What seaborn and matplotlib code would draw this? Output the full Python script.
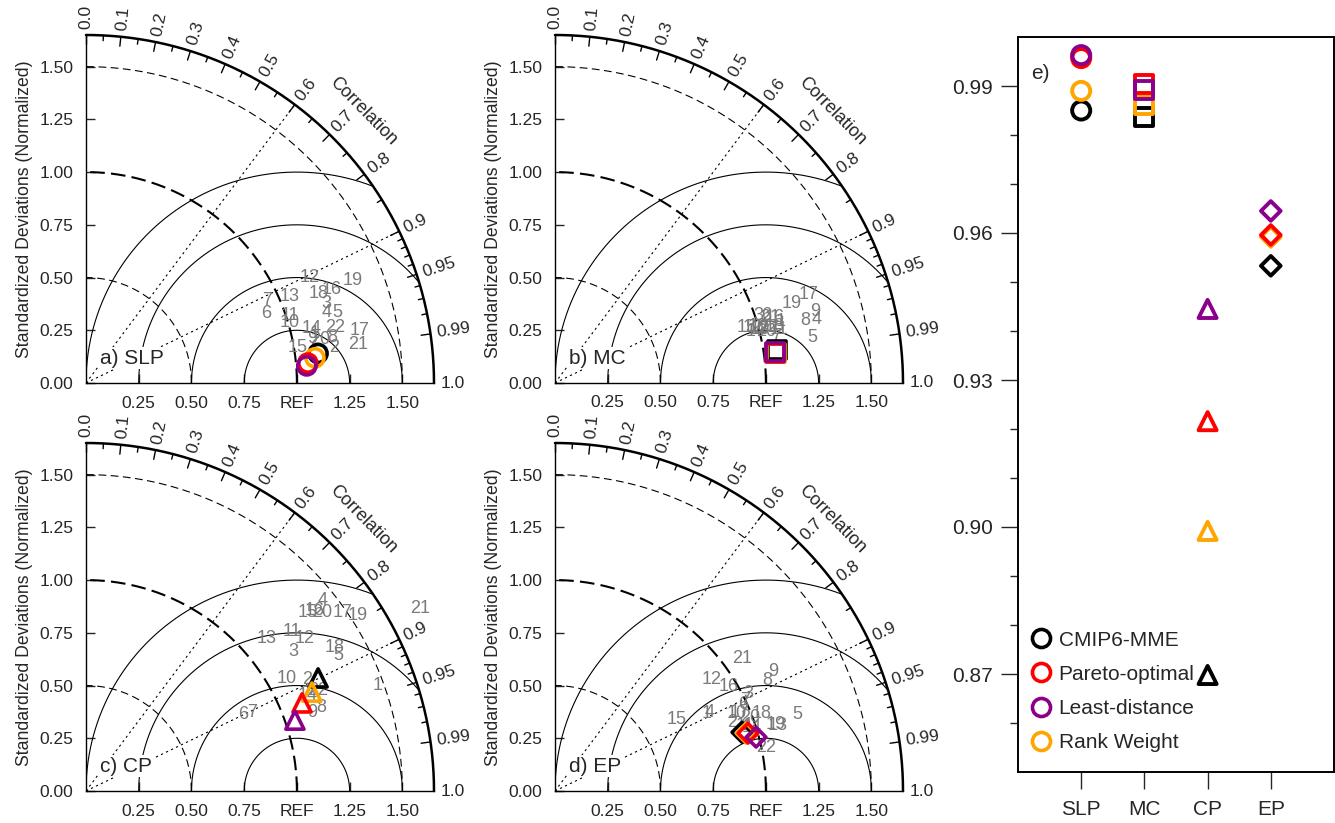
import numpy as np
import pandas as pd
import matplotlib
matplotlib.use("Agg")
import matplotlib.pyplot as plt
import seaborn as sns
from matplotlib.lines import Line2D

sns.set_style("white")
plt.rcParams['font.family'] = ['Liberation Sans', 'DejaVu Sans']

# ---- data ----
model_ids = [str(i) for i in range(1, 23)]
methods = ["CMIP6-MME", "Pareto-optimal", "Least-distance", "Rank Weight"]
method_colors = {"CMIP6-MME": "black", "Pareto-optimal": "red",
                 "Least-distance": "#8B008B", "Rank Weight": "#FFA500"}
draw_order = ["CMIP6-MME", "Rank Weight", "Pareto-optimal", "Least-distance"]

# Taylor diagrams: normalized std and correlation of the 22 models
slp_std = [1.110, 1.187, 1.203, 1.190, 1.239, 0.915, 0.944, 1.186, 1.091, 1.008, 1.019,
           1.173, 1.050, 1.102, 1.019, 1.247, 1.323, 1.184, 1.356, 1.128, 1.302, 1.209]
slp_corr = [0.977, 0.990, 0.949, 0.960, 0.963, 0.932, 0.909, 0.983, 0.981, 0.959, 0.949,
            0.905, 0.921, 0.972, 0.986, 0.935, 0.982, 0.933, 0.933, 0.983, 0.990, 0.976]
mc_std = [1.109, 1.014, 1.014, 1.277, 1.237, 1.050, 1.073, 1.222, 1.278, 0.997, 1.089,
          0.971, 1.002, 0.981, 0.947, 1.089, 1.276, 1.075, 1.185, 1.030, 1.066, 1.043]
mc_corr = [0.965, 0.967, 0.949, 0.972, 0.985, 0.952, 0.979, 0.970, 0.964, 0.963, 0.973,
           0.963, 0.968, 0.968, 0.961, 0.958, 0.944, 0.968, 0.948, 0.971, 0.957, 0.968]
cp_std = [1.472, 1.172, 1.182, 1.442, 1.359, 0.827, 0.870, 1.185, 1.133, 1.093, 1.233,
          1.266, 1.123, 1.146, 1.349, 1.381, 1.482, 1.363, 1.535, 1.401, 1.805, 1.198]
cp_corr = [0.940, 0.893, 0.830, 0.779, 0.882, 0.900, 0.905, 0.943, 0.945, 0.872, 0.791,
           0.820, 0.764, 0.918, 0.780, 0.786, 0.822, 0.866, 0.840, 0.798, 0.877, 0.918]
ep_std = [0.809, 0.900, 1.026, 0.823, 1.202, 0.980, 0.997, 1.134, 1.179, 0.936, 0.952,
          0.911, 1.103, 0.977, 0.669, 0.961, 0.950, 1.048, 1.094, 0.987, 1.087, 1.022]
ep_corr = [0.890, 0.932, 0.892, 0.893, 0.954, 0.909, 0.903, 0.886, 0.876, 0.919, 0.945,
           0.816, 0.959, 0.952, 0.864, 0.858, 0.921, 0.936, 0.958, 0.936, 0.815, 0.979]

# ensemble means (order: CMIP6-MME, Pareto-optimal, Least-distance, Rank Weight)
slp_ens_std = [1.109, 1.056, 1.050, 1.092]
slp_ens_corr = [0.992, 0.996, 0.997, 0.994]
mc_ens_std = [1.063, 1.053, 1.055, 1.058]
mc_ens_corr = [0.989, 0.991, 0.990, 0.991]
cp_ens_std = [1.224, 1.106, 1.046, 1.169]
cp_ens_corr = [0.899, 0.926, 0.947, 0.916]
ep_ens_std = [0.929, 0.955, 0.987, 0.946]
ep_ens_corr = [0.954, 0.958, 0.966, 0.957]

# panel e: correlation of ensembles per region
regions = ["SLP", "MC", "CP", "EP"]
region_markers = ["o", "s", "^", "D"]
e_mme = [0.9850, 0.9837, 0.8698, 0.9533]
e_pareto = [0.9957, 0.9904, 0.9216, 0.9596]
e_least = [0.9963, 0.9892, 0.9445, 0.9645]
e_rank = [0.9890, 0.9862, 0.8992, 0.9592]
e_ticks = [0.87, 0.90, 0.93, 0.96, 0.99]

W, H = 1335, 823
RMAX = 1.65
GRAY = "#7a7a7a"


def px_axes(fig, left, top, w, h):
    return fig.add_axes([left / W, 1 - (top + h) / H, w / W, h / H])


def hollow(ax, df, x, y, marker, size, lw=2.6):
    sns.scatterplot(data=df, x=x, y=y, hue="method", palette=method_colors,
                    marker=marker, s=size, linewidth=lw, legend=False, ax=ax, zorder=5)
    pts = ax.collections[-1]
    pts.set_edgecolors(pts.get_facecolors())
    pts.set_facecolors("none")
    pts.set_clip_on(False)


def taylor(ax, std, corr, ens_std, ens_corr, marker, label):
    t = np.linspace(0, np.pi / 2, 300)
    # std arcs around origin
    ax.plot(0.5 * np.cos(t), 0.5 * np.sin(t), color="k", lw=0.8, ls=(0, (7, 4)))
    ax.plot(1.5 * np.cos(t), 1.5 * np.sin(t), color="k", lw=0.8, ls=(0, (7, 4)))
    ax.plot(np.cos(t), np.sin(t), color="k", lw=1.5, ls=(0, (7, 3)))
    ax.plot(RMAX * np.cos(t), RMAX * np.sin(t), color="k", lw=1.8, clip_on=False)
    # centred RMS circles around REF
    s = np.linspace(0, np.pi, 600)
    for r in [0.25, 0.5, 0.75, 1.0]:
        cx = 1 + r * np.cos(s)
        cy = r * np.sin(s)
        mask = cx ** 2 + cy ** 2 > RMAX ** 2
        cx[mask] = np.nan
        ax.plot(cx, cy, color="k", lw=0.8)
    # correlation rays
    for c in [0.6, 0.9]:
        th = np.arccos(c)
        ax.plot([0, RMAX * np.cos(th)], [0, RMAX * np.sin(th)], color="k", lw=0.8,
                ls=(0, (2, 3)))
    # ticks on the arc
    major = list(np.arange(0, 0.91, 0.1)) + [0.95, 0.99]
    minor = list(np.arange(0.05, 0.9, 0.1)) + [0.91, 0.92, 0.93, 0.94, 0.96, 0.97, 0.98]
    for c, ln in [(c, 0.045) for c in major] + [(c, 0.025) for c in minor]:
        th = np.arccos(c)
        ax.plot([RMAX * np.cos(th), (RMAX - ln) * np.cos(th)],
                [RMAX * np.sin(th), (RMAX - ln) * np.sin(th)], color="k", lw=1.0, clip_on=False)
    labs = ["0.0", "0.1", "0.2", "0.3", "0.4", "0.5", "0.6", "0.7", "0.8", "0.9", "0.95", "0.99", "1.0"]
    vals = [0.0, 0.1, 0.2, 0.3, 0.4, 0.5, 0.6, 0.7, 0.8, 0.9, 0.95, 0.99, 1.0]
    for c, lab in zip(vals, labs):
        th = np.arccos(c)
        rr = RMAX + 0.03
        ax.text(rr * np.cos(th), rr * np.sin(th), lab, rotation=np.degrees(th),
                rotation_mode="anchor", ha="left", va="center", fontsize=12.5)
    th = np.radians(44.5)
    ax.text(1.84 * np.cos(th), 1.84 * np.sin(th), "Correlation", rotation=-45.5,
            rotation_mode="anchor", ha="center", va="center", fontsize=13)

    # models
    std = np.array(std)
    corr = np.array(corr)
    xs = std * corr
    ys = std * np.sin(np.arccos(corr))
    for i, lab in enumerate(model_ids):
        ax.text(xs[i], ys[i], lab, color=GRAY, fontsize=13, ha="center", va="center", zorder=3)

    ens = pd.DataFrame({"method": methods, "std": ens_std, "corr": ens_corr})
    ens["x"] = ens["std"] * ens["corr"]
    ens["y"] = ens["std"] * np.sin(np.arccos(ens["corr"]))
    ens = ens.set_index("method").loc[draw_order].reset_index()
    size = 100 if marker == "D" else 170
    hollow(ax, ens, "x", "y", marker, size)

    ax.text(0.066, 0.118, label, fontsize=15, ha="left", va="center", zorder=4,
            bbox=dict(facecolor="white", edgecolor="none", pad=1.0))

    ax.set_xlim(0, RMAX)
    ax.set_ylim(0, RMAX)
    ax.set_aspect("equal")
    for sp in ["top", "right"]:
        ax.spines[sp].set_visible(False)
    for sp in ["left", "bottom"]:
        ax.spines[sp].set_linewidth(1.0)
        ax.spines[sp].set_color("k")
    ax.set_yticks([0, 0.25, 0.5, 0.75, 1.0, 1.25, 1.5])
    ax.set_yticklabels(["0.00", "0.25", "0.50", "0.75", "1.00", "1.25", "1.50"])
    ax.set_xticks([0.25, 0.5, 0.75, 1.0, 1.25, 1.5])
    ax.set_xticklabels(["0.25", "0.50", "0.75", "REF", "1.25", "1.50"])
    ax.tick_params(direction="in", length=6.5, width=1, labelsize=12.5, pad=9,
                   left=True, bottom=True)
    ax.set_xlabel("")
    ax.set_ylabel("Standardized Deviations (Normalized)", fontsize=12.7, labelpad=5)


fig = plt.figure(figsize=(W / 100, H / 100), dpi=100)

panels = [
    (86, 35, slp_std, slp_corr, slp_ens_std, slp_ens_corr, "o", "a) SLP"),
    (555, 35, mc_std, mc_corr, mc_ens_std, mc_ens_corr, "s", "b) MC"),
    (86, 443, cp_std, cp_corr, cp_ens_std, cp_ens_corr, "^", "c) CP"),
    (555, 443, ep_std, ep_corr, ep_ens_std, ep_ens_corr, "D", "d) EP"),
]
for left, top, sd, cr, esd, ecr, mk, lab in panels:
    ax = px_axes(fig, left, top, 348, 348)
    taylor(ax, sd, cr, esd, ecr, mk, lab)

# ---- panel e ----
axe = px_axes(fig, 1018, 37, 316, 735)
edf = pd.DataFrame({
    "region": np.repeat(regions, 4),
    "pos": np.repeat(np.arange(1, 5), 4),
    "method": draw_order * 4,
})
vals = {"CMIP6-MME": e_mme, "Pareto-optimal": e_pareto,
        "Least-distance": e_least, "Rank Weight": e_rank}
edf["value"] = [vals[m][regions.index(r)] for r, m in zip(edf["region"], edf["method"])]
for r, mk in zip(regions, region_markers):
    sub = edf[edf["region"] == r]
    hollow(axe, sub, "pos", "value", mk, 100 if mk == "D" else 170, lw=2.8)

axe.set_xlim(0, 5)
axe.set_ylim(0.85, 1.0)
axe.set_xticks([1, 2, 3, 4])
axe.set_xticklabels(regions)
axe.set_yticks(e_ticks)
axe.set_yticklabels([f"{v:.2f}" for v in e_ticks])
axe.set_yticks([v for v in np.arange(0.86, 0.995, 0.01)
                if min(abs(v - e) for e in e_ticks) > 1e-6], minor=True)
axe.tick_params(axis="y", which="major", direction="out", length=12, width=1,
                labelsize=15, left=True, pad=6)
axe.tick_params(axis="y", which="minor", direction="out", length=6, width=1, left=True)
axe.tick_params(axis="x", direction="out", length=12, width=1, labelsize=15, bottom=True, pad=8)
for sp in axe.spines.values():
    sp.set_linewidth(1.4)
    sp.set_color("k")
axe.set_xlabel("")
axe.set_ylabel("")
axe.text(0.04, 0.951, "e)", transform=axe.transAxes, fontsize=15, ha="left", va="center")

handles = [Line2D([], [], marker="o", ls="none", mfc="none", mec=method_colors[m],
                  mew=2.6, ms=13) for m in methods]
axe.legend(handles, methods, loc="lower left", bbox_to_anchor=(0.0, 0.01), frameon=False,
           fontsize=15, handlelength=1.0, handletextpad=0.35, labelspacing=0.73,
           borderaxespad=0.2)

fig.savefig("out.png", dpi=100)
